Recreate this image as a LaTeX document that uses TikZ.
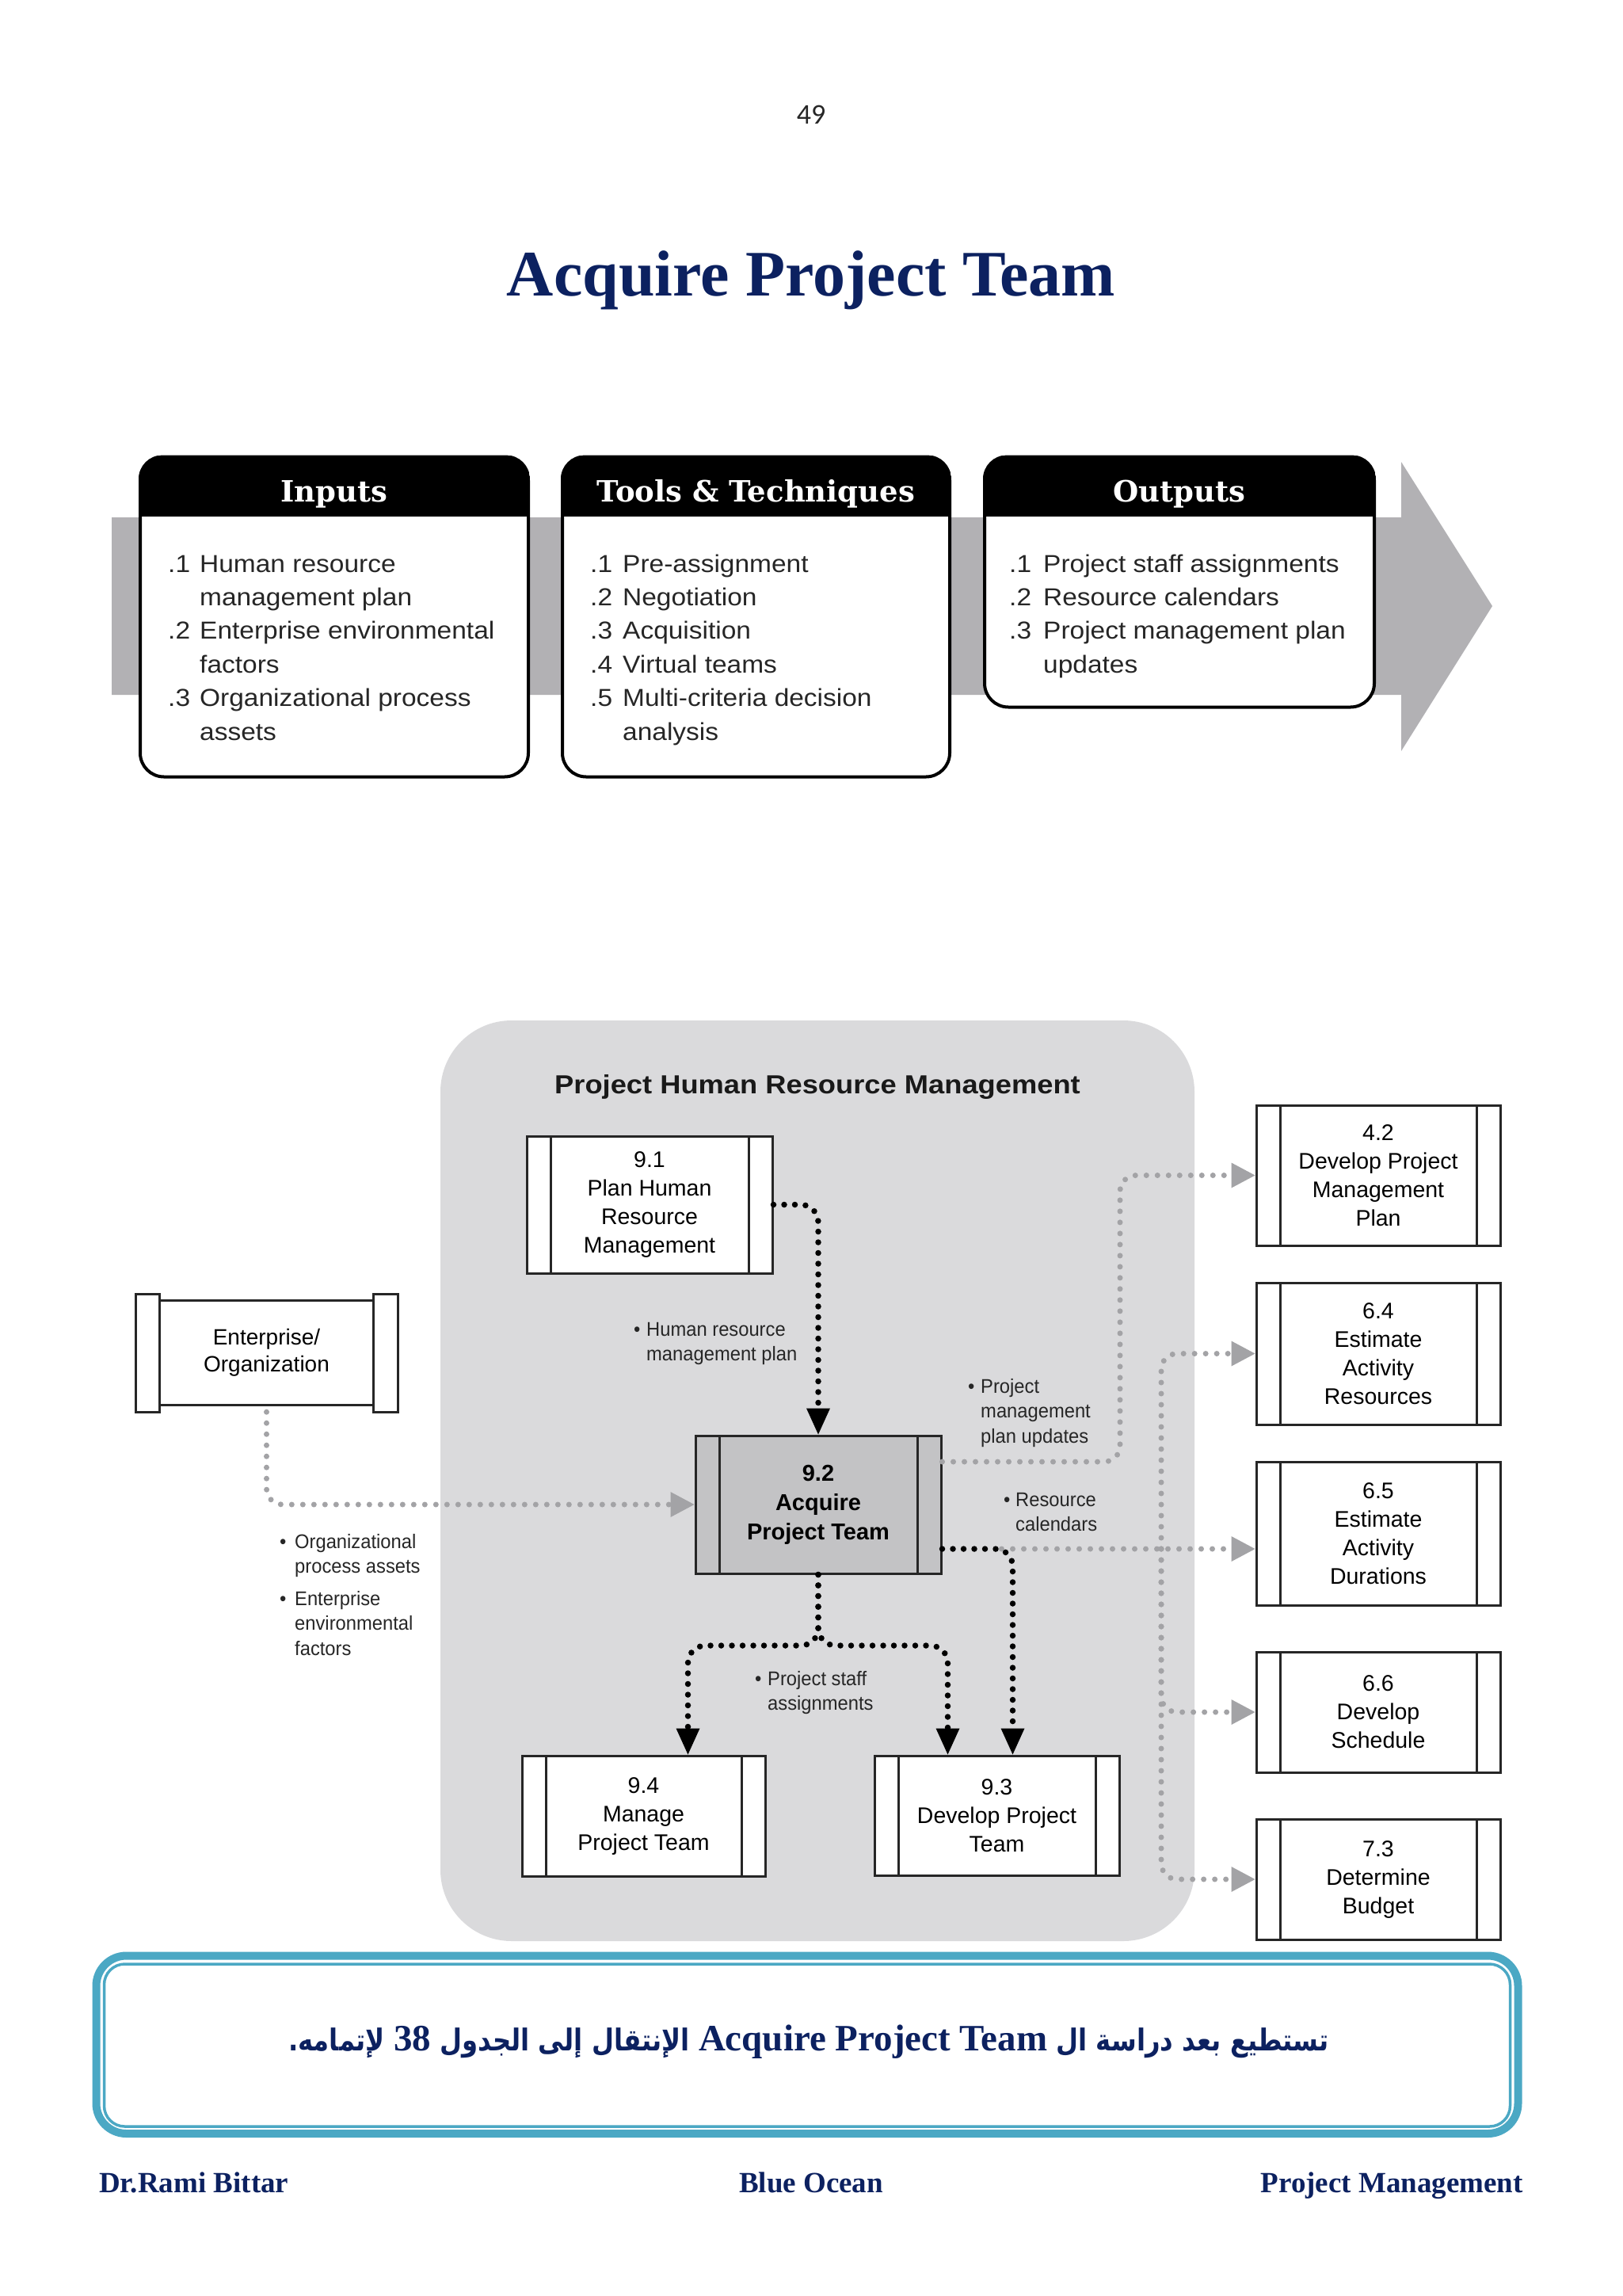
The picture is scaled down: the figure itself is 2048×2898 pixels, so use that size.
\documentclass[tikz,border=0pt]{standalone}
\usepackage{fontspec}
\setmainfont{Liberation Serif}
\newfontfamily\itemfont[FakeStretch=1.08]{Liberation Sans}
\newfontfamily\sansf{Liberation Sans}
\newfontfamily\widesans[FakeStretch=1.1]{Liberation Sans}
\newfontfamily\labfont[FakeStretch=0.95]{Liberation Sans}
\newfontfamily\headfont{DejaVu Serif}
\newfontfamily\pagefont{Carlito}
\newfontfamily\arabicfont[Script=Arabic,FakeStretch=0.85]{DejaVu Sans}
\TeXXeTstate=1
\usetikzlibrary{arrows.meta}
\definecolor{navy}{RGB}{12,33,96}
\definecolor{calloutteal}{RGB}{75,168,196}
\definecolor{bandgray}{RGB}{178,177,180}
\definecolor{regiongray}{RGB}{218,218,220}
\definecolor{boxgray}{RGB}{195,195,197}
\definecolor{dotgray}{RGB}{163,163,166}
\begin{document}
\begin{tikzpicture}[x=1pt,y=-1pt,
  topbox/.style={draw=black, line width=4pt, fill=white, rounded corners=30pt, inner sep=0pt},
  headtext/.style={text=white, inner sep=0pt, anchor=base, font=\headfont\bfseries\fontsize{37}{40}\selectfont},
  itemtext/.style={inner sep=0pt, anchor=base west, text=black!85, font=\itemfont\fontsize{31}{42.4}\selectfont},
  proc/.style={draw=black!85, line width=3pt, fill=white, inner sep=0pt, align=center,
    font=\sansf\fontsize{28.5}{36}\selectfont,
    path picture={\draw[line width=3pt, black!85]
      ([xshift=30pt]path picture bounding box.north west) -- ([xshift=30pt]path picture bounding box.south west)
      ([xshift=-30pt]path picture bounding box.north east) -- ([xshift=-30pt]path picture bounding box.south east);}},
  labtext/.style={inner sep=0pt, anchor=base west, text=black!85, font=\labfont\fontsize{25}{31.5}\selectfont},
  gdot/.style={draw=dotgray, line width=7pt, line cap=round, dash pattern=on 0pt off 14pt, rounded corners=20pt,
    -{Triangle[length=30pt,width=32pt,line width=0pt]}},
  bdot/.style={draw=black, line width=7.5pt, line cap=round, dash pattern=on 0pt off 13.5pt, rounded corners=22pt,
    -{Triangle[length=33pt,width=30pt,line width=0pt]}},
  foot/.style={inner sep=0pt, text=navy, font=\bfseries\fontsize{37}{40}\selectfont}
]
\useasboundingbox (0,0) rectangle (2048,2898);

% page number and title
\node[inner sep=0pt, anchor=base, text=black!85, font=\pagefont\fontsize{36}{40}\selectfont] (pnum) at (1024,157) {49};
\node[inner sep=0pt, anchor=base, text=navy, font=\bfseries\fontsize{82}{90}\selectfont] (title) at (1024,373) {Acquire Project Team};

% ===== ITTO band =====
\fill[bandgray] (141,653) -- (1769,653) -- (1769,583) -- (1884,765) -- (1769,948) -- (1769,877) -- (141,877) -- cycle;

\node[topbox, minimum width=490pt, minimum height=404pt] (inp) at (422,778.5) {};
\node[topbox, minimum width=489pt, minimum height=404pt] (tools) at (954.5,778.5) {};
\node[topbox, minimum width=492pt, minimum height=316pt] (outp) at (1489,734.5) {};
\foreach \b in {inp,tools,outp}{
  \begin{scope}
    \clip[rounded corners=30pt] (\b.north west) rectangle (\b.south east);
    \fill[black] (\b.north west) rectangle ([yshift=-77pt]\b.north east);
  \end{scope}
}
\node[headtext] (inph) at (422,633) {Inputs};
\node[headtext] (toolsh) at (954.5,633) {Tools \& Techniques};
\node[headtext] (outph) at (1489,633) {Outputs};

\node[itemtext] (inpl) at (212,722) {\begin{tabular}[t]{@{}p{40pt}@{}l@{}}
.1 & Human resource\\ & management plan\\ .2 & Enterprise environmental\\ & factors\\ .3 & Organizational process\\ & assets\end{tabular}};
\node[itemtext] (toolsl) at (745,722) {\begin{tabular}[t]{@{}p{41pt}@{}l@{}}
.1 & Pre-assignment\\ .2 & Negotiation\\ .3 & Acquisition\\ .4 & Virtual teams\\ .5 & Multi-criteria decision\\ & analysis\end{tabular}};
\node[itemtext] (outpl) at (1274,722) {\begin{tabular}[t]{@{}p{43pt}@{}l@{}}
.1 & Project staff assignments\\ .2 & Resource calendars\\ .3 & Project management plan\\ & updates\end{tabular}};

% ===== Process diagram =====
\node[fill=regiongray, rounded corners=90pt, minimum width=952pt, minimum height=1162pt, inner sep=0pt] (hrm) at (1032,1869) {};
\node[inner sep=0pt, anchor=base, text=black!90, font=\widesans\bfseries\fontsize{33}{36}\selectfont] (hrmt) at (1032,1380) {Project Human Resource Management};

\node[proc, minimum width=310pt, minimum height=173pt] (n91) at (820,1520.5) {9.1\\Plan Human\\Resource\\Management};
\node[proc, fill=boxgray, minimum width=310pt, minimum height=174pt, font=\sansf\bfseries\fontsize{29}{37}\selectfont] (n92) at (1033,1899) {9.2\\Acquire\\Project Team};
\node[proc, minimum width=307pt, minimum height=152pt] (n94) at (812.5,2292) {9.4\\Manage\\Project Team};
\node[proc, minimum width=309pt, minimum height=151pt] (n93) at (1258.5,2291.5) {9.3\\Develop Project\\Team};

\node[proc, minimum width=308pt, minimum height=177pt] (n42) at (1740,1483.5) {4.2\\Develop Project\\Management\\Plan};
\node[proc, minimum width=308pt, minimum height=179pt] (n64) at (1740,1708.5) {6.4\\Estimate\\Activity\\Resources};
\node[proc, minimum width=308pt, minimum height=181pt] (n65) at (1740,1935.5) {6.5\\Estimate\\Activity\\Durations};
\node[proc, minimum width=308pt, minimum height=152pt] (n66) at (1740,2161) {6.6\\Develop\\Schedule};
\node[proc, minimum width=308pt, minimum height=152pt] (n73) at (1740,2372) {7.3\\Determine\\Budget};

% Enterprise / Organization
\fill[white] (201,1641) rectangle (471,1773);
\draw[line width=3pt, black!85] (201,1641) -- (471,1641) (201,1773) -- (471,1773);
\draw[line width=3pt, black!85, fill=white] (171,1633) rectangle (201,1782);
\draw[line width=3pt, black!85, fill=white] (471,1633) rectangle (502,1782);
\node[inner sep=0pt, minimum width=331pt, minimum height=149pt, align=center, font=\sansf\fontsize{28}{34}\selectfont] (ent) at (336.5,1707.5) {Enterprise/\\Organization};

% connectors
\coordinate (pmpu) at (1414,1845);
\coordinate (rc) at (1278.5,1955);
\coordinate (tr) at (1466,1955);
\coordinate (sp) at (1033,2077);

\draw[gdot] (ent.south) |- (n92.west);
\draw[gdot] (n92.east |- pmpu) -- (pmpu) |- (n42.west);
\draw[gdot] ([xshift=-14pt]rc) -- (n65.west |- rc);
\draw[gdot] (tr) |- (n64.west);
\draw[gdot] (tr) |- (n66.west);
\draw[gdot] (tr) |- (n73.west);

\draw[bdot] (n91.east) -| (n92.north);
\draw[bdot] (n92.east |- rc) -| ([xshift=20pt]n93.north);
\draw[bdot] (n92.south) -- (sp) -| ([xshift=56pt]n94.north);
\draw[bdot] (n92.south) -- (sp) -| ([xshift=-62pt]n93.north);

% labels
\node[labtext] (lhr) at (800,1686) {\begin{tabular}[t]{@{}p{16pt}@{}l@{}}\textbullet & Human resource\\ & management plan\end{tabular}};
\node[labtext] (lpm) at (1222,1758) {\begin{tabular}[t]{@{}p{16pt}@{}l@{}}\textbullet & Project\\ & management\\ & plan updates\end{tabular}};
\node[labtext] (lrc) at (1267,1901) {\begin{tabular}[t]{@{}p{15pt}@{}l@{}}\textbullet & Resource\\ & calendars\end{tabular}};
\node[labtext] (lps) at (953,2127) {\begin{tabular}[t]{@{}p{16pt}@{}l@{}}\textbullet & Project staff\\ & assignments\end{tabular}};
\node[labtext] (lop) at (353,1954) {\begin{tabular}[t]{@{}p{19pt}@{}l@{}}\textbullet & Organizational\\ & process assets\\[9pt] \textbullet & Enterprise\\ & environmental\\ & factors\end{tabular}};

% ===== callout =====
\node[draw=calloutteal, line width=10pt, rounded corners=38pt, minimum width=1795pt, minimum height=224.5pt, inner sep=0pt] (callout) at (1019,2580.75) {};
\node[draw=calloutteal, line width=3.5pt, rounded corners=26pt, minimum width=1775pt, minimum height=205pt, inner sep=0pt] (callin) at (1019,2581.5) {};
\node[inner sep=0pt, anchor=base, text=navy] (arab) at (1021,2588) {\arabicfont\bfseries\fontsize{38}{48}\selectfont\beginR تستطيع بعد دراسة ال \beginL{\rmfamily\fontsize{47}{52}\selectfont Acquire Project Team}\endL{} الإنتقال إلى الجدول \beginL{\rmfamily\fontsize{47}{52}\selectfont 38}\endL{} لإتمامه.\endR};

% footer
\node[foot, anchor=base west] (f1) at (125,2767) {Dr.Rami Bittar};
\node[foot, anchor=base] (f2) at (1024,2767) {Blue Ocean};
\node[foot, anchor=base east] (f3) at (1923,2767) {Project Management};
\end{tikzpicture}
\end{document}
